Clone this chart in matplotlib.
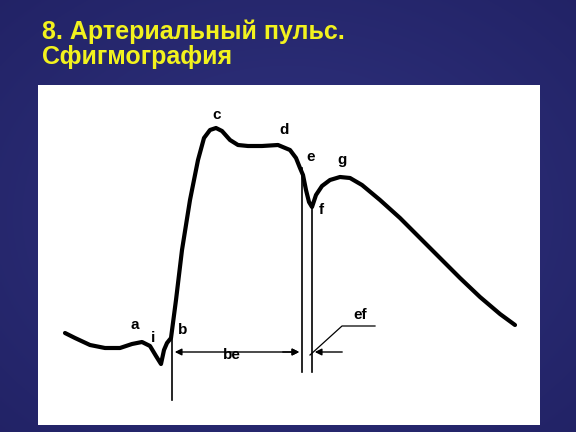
import numpy as np
import matplotlib.pyplot as plt
from matplotlib.patches import Rectangle

# pulse curve (slide pixel coords)
curve_x = [65, 75, 90, 105, 120, 132, 142, 150, 156, 161, 164, 167, 171, 176, 182, 190, 198, 204, 210, 216, 222, 230, 238, 248, 262, 278, 290, 296, 300, 303, 306, 309, 312, 316, 322, 330, 340, 350, 362, 380, 400, 420, 440, 460, 480, 500, 515]
curve_y = [333, 338, 345, 348, 348, 344, 342, 346, 356, 364, 350, 343, 338, 300, 250, 200, 160, 138, 130, 128, 131, 140, 145, 146, 146, 145, 150, 158, 168, 175, 190, 202, 207, 195, 186, 180, 177, 178, 185, 200, 218, 238, 258, 278, 297, 314, 325]

labels = ["a", "i", "b", "c", "d", "e", "f", "g", "be", "ef"]
label_x = [135, 153, 183, 217, 284, 311, 321, 342, 232, 360]
label_y = [325, 338, 330, 115, 130, 157, 210, 160, 355, 315]

fig = plt.figure(figsize=(5.76, 4.32), dpi=100)
ax = fig.add_axes([0, 0, 1, 1])
ax.set_xlim(0, 576)
ax.set_ylim(432, 0)
ax.axis("off")

# background gradient
xx, yy = np.meshgrid(np.linspace(0, 1, 256), np.linspace(0, 1, 256))
r = np.sqrt((xx - 0.5) ** 2 + (yy - 0.5) ** 2)
c1 = np.array([0.19, 0.20, 0.50])
c0 = np.array([0.11, 0.11, 0.36])
bg = c1 * (1 - r[..., None]) + c0 * r[..., None]
ax.imshow(bg, extent=[0, 576, 432, 0], aspect="auto", zorder=0)

ax.add_patch(Rectangle((38, 85), 502, 340, facecolor="white", edgecolor="none", zorder=1))

ax.text(42, 20, "8. Артериальный пульс.\nСфигмография", color="#f2f21e", fontsize=18,
        fontweight="bold", va="top", ha="left", family="Liberation Sans", linespacing=1.05, zorder=3)

ax.plot(curve_x, curve_y, color="black", lw=3, solid_capstyle="round", zorder=3)

# vertical markers
ax.plot([172, 172], [338, 400], color="black", lw=1.2, zorder=3)
ax.plot([302, 302], [168, 372], color="black", lw=1.2, zorder=3)
ax.plot([312, 312], [205, 372], color="black", lw=1.2, zorder=3)

# be arrow
ax.annotate("", xy=(172, 352), xytext=(302, 352),
            arrowprops=dict(arrowstyle="<|-|>", color="black", lw=1, mutation_scale=10), zorder=3)
# ef arrows
ax.annotate("", xy=(302, 352), xytext=(280, 352),
            arrowprops=dict(arrowstyle="-|>", color="black", lw=1, mutation_scale=10), zorder=3)
ax.annotate("", xy=(312, 352), xytext=(345, 352),
            arrowprops=dict(arrowstyle="-|>", color="black", lw=1, mutation_scale=10), zorder=3)
ax.plot([310, 342, 375], [355, 326, 326], color="black", lw=0.9, zorder=3)

for t, x, y in zip(labels, label_x, label_y):
    ax.text(x, y, t, fontsize=11, fontweight="bold", ha="center", va="center",
            family="Liberation Sans", zorder=4)

fig.savefig("out.png", dpi=100)
